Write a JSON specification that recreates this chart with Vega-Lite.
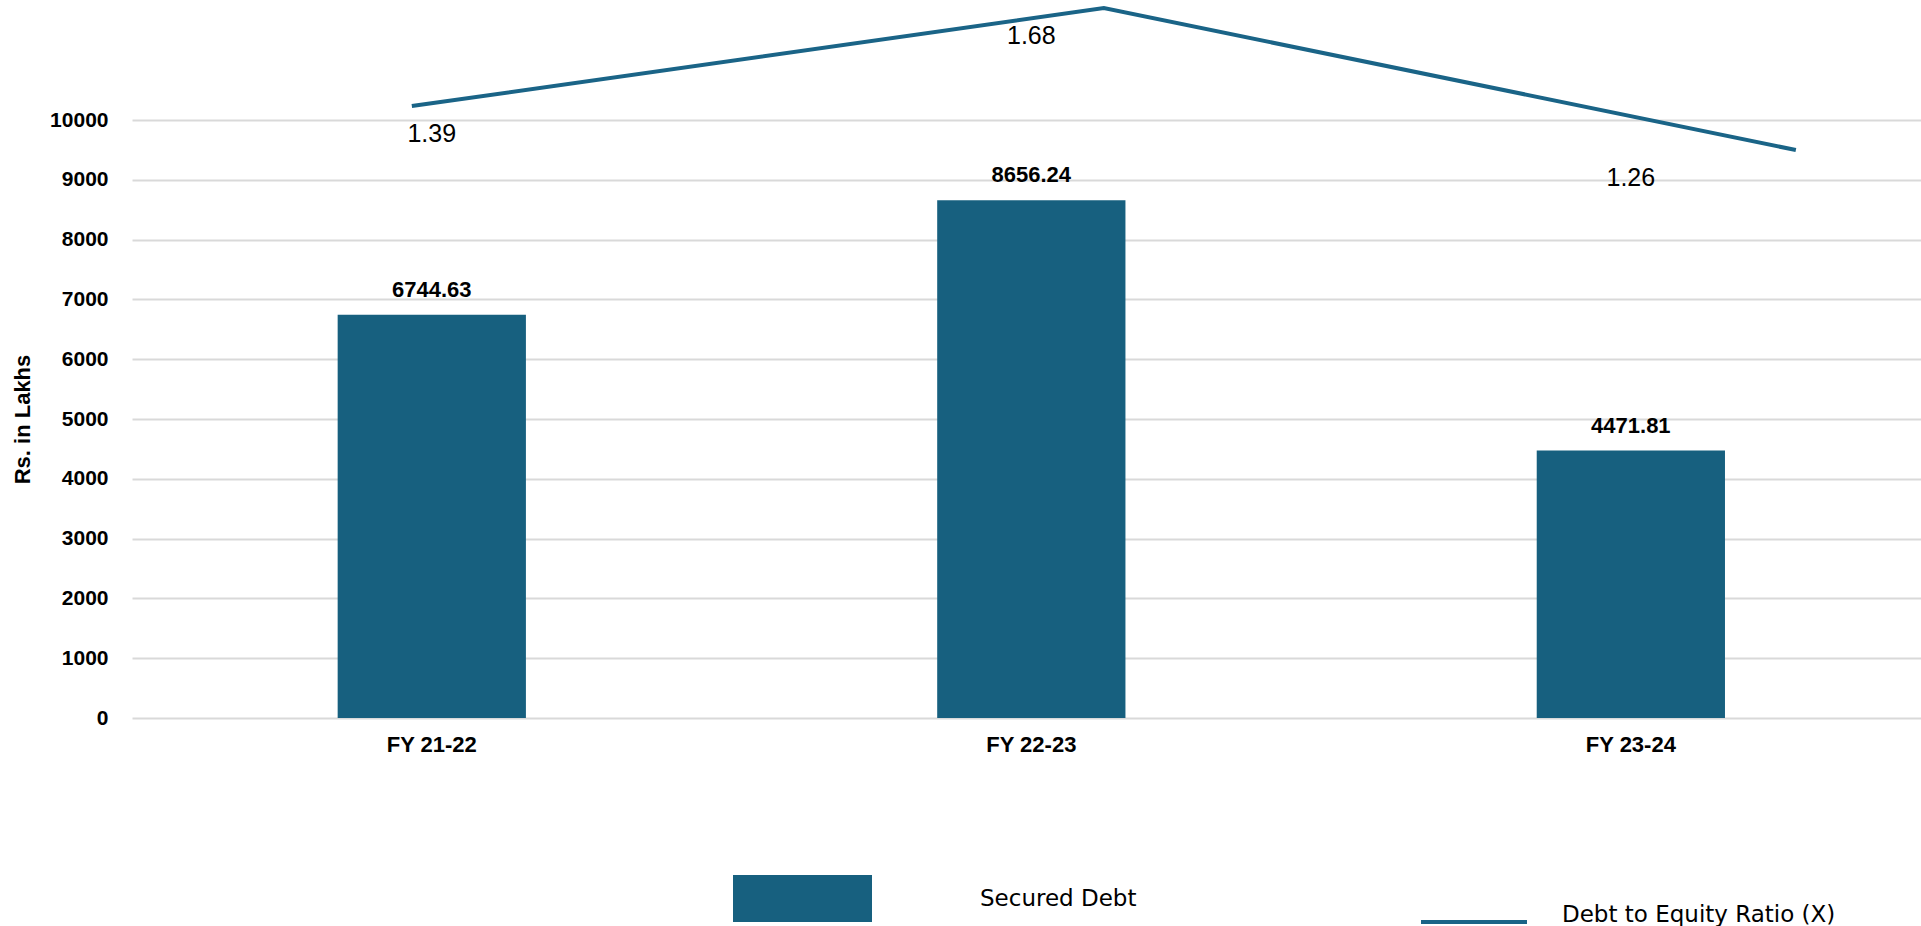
{
  "$schema": "https://vega.github.io/schema/vega-lite/v6.json",
  "width": 1789,
  "height": 718,
  "autosize": {"type": "none"},
  "padding": {"left": 132, "top": 0, "right": 0, "bottom": 208},
  "background": "white",
  "config": {"view": {"stroke": null}, "font": "Liberation Sans"},
  "data": {
    "values": [
      {"year": "FY 21-22", "securedDebt": 6744.63, "ratio": 1.39},
      {"year": "FY 22-23", "securedDebt": 8656.24, "ratio": 1.68},
      {"year": "FY 23-24", "securedDebt": 4471.81, "ratio": 1.26}
    ]
  },
  "layer": [
    {
      "encoding": {
        "x": {
          "field": "year",
          "type": "nominal",
          "sort": null,
          "scale": {"type": "band", "paddingInner": 0.686, "paddingOuter": 0.335, "align": 0.512},
          "axis": {
            "title": null,
            "labelAngle": 0,
            "labelFont": "Liberation Sans",
            "labelFontSize": 22,
            "labelFontWeight": "bold",
            "labelColor": "black",
            "labelPadding": 16,
            "domain": false,
            "ticks": false,
            "grid": false
          }
        },
        "y": {
          "field": "securedDebt",
          "type": "quantitative",
          "scale": {"domain": [0, 12007], "nice": false, "zero": true},
          "axis": {
            "title": "Rs. in Lakhs",
            "values": [0, 1000, 2000, 3000, 4000, 5000, 6000, 7000, 8000, 9000, 10000],
            "format": "d",
            "grid": true,
            "gridColor": "#d9d9d9",
            "gridWidth": 2,
            "domain": false,
            "ticks": false,
            "labelFont": "Liberation Sans",
            "labelFontSize": 21,
            "labelFontWeight": "bold",
            "labelColor": "black",
            "labelPadding": 24,
            "titleFont": "Liberation Sans",
            "titleFontSize": 22,
            "titleFontWeight": "bold",
            "titleColor": "black",
            "titleX": -110,
            "titleY": 419,
            "titleAngle": -90,
            "titleAlign": "center",
            "titleBaseline": "middle"
          }
        }
      },
      "layer": [
        {
          "mark": {"type": "bar"},
          "encoding": {
            "fill": {
              "datum": "Secured Debt",
              "scale": {"range": ["#17607f"]},
              "legend": {
                "orient": "none",
                "legendX": 601,
                "legendY": 829,
                "title": null,
                "padding": 0,
                "symbolType": "M-1,-0.338H1V0.338H-1Z",
                "symbolSize": 19321,
                "symbolStrokeWidth": 0,
                "symbolOpacity": 1,
                "labelFont": "DejaVu Sans",
                "labelFontSize": 23,
                "labelColor": "black",
                "labelOffset": 108,
                "labelLimit": 0
              }
            }
          }
        },
        {
          "mark": {
            "type": "text",
            "dy": -18,
            "baseline": "alphabetic",
            "font": "Liberation Sans",
            "fontSize": 22,
            "fontWeight": "bold",
            "color": "black"
          },
          "encoding": {
            "text": {"field": "securedDebt", "type": "quantitative", "format": ".2f"}
          }
        }
      ]
    },
    {
      "mark": {"type": "line", "strokeWidth": 4},
      "encoding": {
        "x": {
          "field": "year",
          "type": "nominal",
          "sort": null,
          "scale": {"type": "point", "padding": 0.2926, "align": 0.691},
          "axis": null
        },
        "y": {
          "field": "ratio",
          "type": "quantitative",
          "scale": {"domain": [-0.4199, 1.7037], "nice": false, "zero": false},
          "axis": null
        },
        "stroke": {
          "datum": "Debt to Equity Ratio (X)",
          "scale": {"range": ["#1a6487"]},
          "legend": {
            "orient": "none",
            "legendX": 1287,
            "legendY": 867,
            "title": null,
            "padding": 0,
            "symbolType": "stroke",
            "symbolSize": 11236,
            "symbolStrokeWidth": 4,
            "labelFont": "DejaVu Sans",
            "labelFontSize": 23,
            "labelColor": "black",
            "labelOffset": 33,
            "labelBaseline": "alphabetic",
            "labelLimit": 0
          }
        }
      }
    },
    {
      "mark": {
        "type": "text",
        "dy": 28,
        "baseline": "middle",
        "font": "Liberation Sans",
        "fontSize": 25,
        "color": "black"
      },
      "encoding": {
        "x": {
          "field": "year",
          "type": "nominal",
          "sort": null,
          "scale": {"type": "band", "paddingInner": 0.686, "paddingOuter": 0.335, "align": 0.512},
          "axis": null
        },
        "y": {
          "field": "ratio",
          "type": "quantitative",
          "scale": {"domain": [-0.4199, 1.7037], "nice": false, "zero": false},
          "axis": null
        },
        "text": {"field": "ratio", "type": "quantitative", "format": ".2f"}
      }
    }
  ],
  "resolve": {"scale": {"x": "independent", "y": "independent"}}
}
